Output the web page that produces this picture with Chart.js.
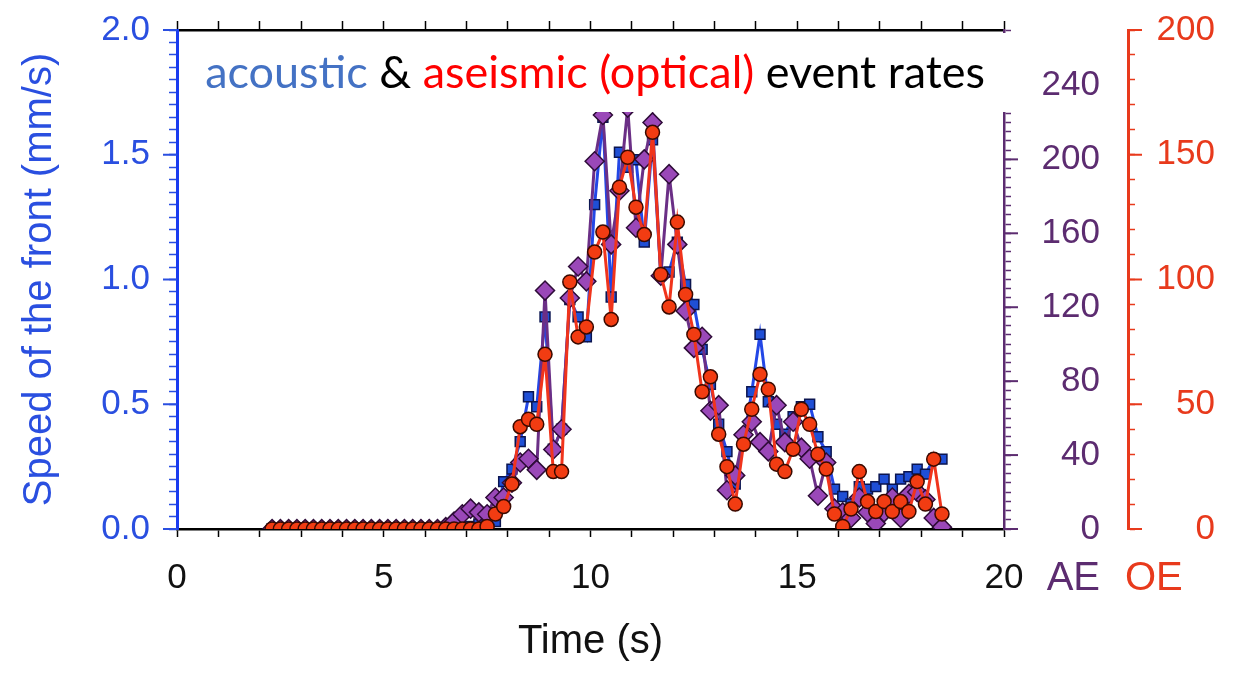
<!DOCTYPE html>
<html>
<head>
<title>event rates</title>
<style>
  body { margin: 0; background: #fff; }
</style>
</head>
<body>
<canvas id="chart1" width="1243" height="678"></canvas>

<script src="https://cdn.jsdelivr.net/npm/chart.js@4/dist/chart.umd.min.js"></script>
<script>
// time of each sample (s)
const times = [2.3, 2.5, 2.7, 2.9, 3.1, 3.3, 3.5, 3.7, 3.9, 4.1, 4.3, 4.5, 4.7, 4.9, 5.1, 5.3, 5.5, 5.7, 5.9, 6.1,
  6.3, 6.5, 6.7, 6.9, 7.1, 7.3, 7.5, 7.7, 7.9, 8.1, 8.3, 8.5, 8.7, 8.9, 9.1, 9.3, 9.5, 9.7, 9.9, 10.1,
  10.3, 10.5, 10.7, 10.9, 11.1, 11.3, 11.5, 11.7, 11.9, 12.1, 12.3, 12.5, 12.7, 12.9, 13.1, 13.3, 13.5, 13.7, 13.9, 14.1,
  14.3, 14.5, 14.7, 14.9, 15.1, 15.3, 15.5, 15.7, 15.9, 16.1, 16.3, 16.5, 16.7, 16.9, 17.1, 17.3, 17.5, 17.7, 17.9, 18.1,
  18.3, 18.5];

// speed of the front (mm/s)
const speed = [0, 0, 0, 0, 0, 0, 0, 0, 0, 0, 0, 0, 0, 0, 0, 0, 0, 0, 0, 0,
  0, 0, 0, 0, 0.01, 0.02, 0.03, 0.03, 0.19, 0.24, 0.35, 0.53, 0.49, 0.85, 0.32, 0.40, 0.92, 0.85, 0.77, 1.30,
  1.65, 0.93, 1.51, 1.45, 1.48, 1.15, 1.56, 1.02, 1.03, 1.15, 0.98, 0.90, 0.72, 0.58, 0.42, 0.31, 0.18, 0.35, 0.55, 0.78,
  0.51, 0.42, 0.38, 0.45, 0.49, 0.50, 0.37, 0.31, 0.16, 0.13, 0.10, 0.17, 0.16, 0.17, 0.20, 0.16, 0.20, 0.21, 0.24, 0.22,
  0.28, 0.28];

// acoustic events (AE)
const aeRate = [0, 0, 0, 0, 0, 0, 0, 0, 0, 0, 0, 0, 0, 0, 0, 0, 0, 0, 0, 0,
  0, 1, 4, 8, 11, 9, 8, 17, 17, 25, 36, 38, 32, 129, 43, 54, 125, 142, 134, 199,
  224, 154, 183, 228, 163, 200, 220, 137, 192, 154, 118, 98, 104, 64, 67, 21, 29, 51, 58, 47,
  42, 67, 47, 58, 44, 38, 18, 36, 11, 9, 6, 17, 9, 3, 9, 17, 6, 19, 20, 16,
  6, 1];

// optical events (OE)
const oeRate = [0, 0, 0, 0, 0, 0, 0, 0, 0, 0, 0, 0, 0, 0, 0, 0, 0, 0, 0, 0,
  0, 0, 0, 0, 0, 0, 1, 6, 9, 18, 41, 44, 42, 70, 23, 23, 99, 77, 81, 111,
  119, 84, 137, 149, 129, 118, 159, 102, 89, 123, 94, 78, 55, 61, 38, 25, 10, 34, 48, 62,
  56, 26, 23, 32, 48, 42, 30, 24, 6, 1, 8, 23, 11, 7, 11, 7, 11, 7, 19, 10,
  28, 6];

const timeLabels = [0, 5, 10, 15, 20];
const speedLabels = [0, 0.5, 1.0, 1.5, 2.0];
const aeLabels = [0, 40, 80, 120, 160, 200, 240];
const oeLabels = [0, 50, 100, 150, 200];

const BLUE = '#2a4fe0';
const PURPLE = '#5c2c70';
const RED = '#e83a1c';

function isIn(v, list) {
  return list.some(l => Math.abs(l - v) < 1e-6);
}

function pts(arr) {
  return times.map((t, i) => ({ x: t, y: arr[i] }));
}

// vertical axes: fixed width, no extra room for half labels at the ends
function fixY(width) {
  return s => { s.width = width; s.paddingTop = 0; s.paddingBottom = 0; };
}

Chart.defaults.font.family = "'Liberation Sans', Arial, Helvetica, sans-serif";

// longer major ticks, AE/OE captions and the white title box
const extras = {
  id: 'extras',
  afterDraw(chart) {
    const c = chart.ctx;
    const sy = chart.scales.y, sae = chart.scales.ae, soe = chart.scales.oe;
    const area = chart.chartArea;
    c.save();
    c.lineWidth = 2;
    c.strokeStyle = BLUE;
    speedLabels.forEach(v => {
      const p = sy.getPixelForValue(v);
      c.beginPath(); c.moveTo(sy.right - 14, p); c.lineTo(sy.right, p); c.stroke();
    });
    c.strokeStyle = PURPLE;
    aeLabels.forEach(v => {
      const p = sae.getPixelForValue(v);
      c.beginPath(); c.moveTo(sae.left, p); c.lineTo(sae.left + 14, p); c.stroke();
    });
    c.strokeStyle = RED;
    oeLabels.forEach(v => {
      const p = soe.getPixelForValue(v);
      c.beginPath(); c.moveTo(soe.left, p); c.lineTo(soe.left + 14, p); c.stroke();
    });

    // AE / OE captions
    c.font = "40px 'Liberation Sans', Arial, sans-serif";
    c.textBaseline = 'middle';
    c.fillStyle = PURPLE;
    c.textAlign = 'right';
    c.fillText('AE', sae.right, 579);
    c.fillStyle = RED;
    c.textAlign = 'left';
    c.fillText('OE', soe.left - 3, 579);

    // title box
    c.fillStyle = '#fff';
    c.fillRect(area.left + 4, area.top + 3, area.right - area.left + 16, 79);
    const parts = [['acoustic', '#4472c4'], [' & ', '#000'], ['aseismic (optical)', '#ff0000'], [' event rates', '#000']];
    let size = 38;
    c.font = size + "px Lato, 'Open Sans', sans-serif";
    let w = parts.reduce((s, p) => s + c.measureText(p[0]).width, 0);
    size = size * 780 / w;
    c.font = size + "px Lato, 'Open Sans', sans-serif";
    w = parts.reduce((s, p) => s + c.measureText(p[0]).width, 0);
    let x = 595 - w / 2;
    c.textAlign = 'left';
    c.textBaseline = 'alphabetic';
    parts.forEach(p => {
      c.fillStyle = p[1];
      c.fillText(p[0], x, area.top + 58);
      x += c.measureText(p[0]).width;
    });
    c.restore();
  }
};

const ctx = document.getElementById('chart1').getContext('2d');
const chart = new Chart(ctx, {
  type: 'line',
  data: {
    datasets: [
      {
        label: 'OE',
        data: pts(oeRate),
        yAxisID: 'oe',
        order: 1,
        borderColor: '#f0341c',
        borderWidth: 3,
        pointStyle: 'circle',
        pointRadius: 7,
        pointBackgroundColor: '#f23c12',
        pointBorderColor: '#3a0a00',
        pointBorderWidth: 1.5
      },
      {
        label: 'AE',
        data: pts(aeRate),
        yAxisID: 'ae',
        order: 2,
        borderColor: '#6b2f86',
        borderWidth: 3,
        pointStyle: 'rectRot',
        pointRadius: 9.5,
        pointBackgroundColor: '#9a48b8',
        pointBorderColor: '#2e0c38',
        pointBorderWidth: 1.5
      },
      {
        label: 'speed',
        data: pts(speed),
        yAxisID: 'y',
        order: 3,
        borderColor: '#2347e6',
        borderWidth: 3,
        pointStyle: 'rect',
        pointRadius: 7,
        pointBackgroundColor: '#1f4fd6',
        pointBorderColor: '#0b1550',
        pointBorderWidth: 1.5
      }
    ]
  },
  options: {
    responsive: false,
    animation: false,
    layout: { padding: { left: 0, top: 0, bottom: 0, right: 28 } },
    plugins: { legend: { display: false }, tooltip: { enabled: false } },
    scales: {
      x: {
        type: 'linear', position: 'bottom', min: 0, max: 20,
        border: { color: '#000', width: 2.5 },
        grid: { drawOnChartArea: false, tickLength: 8, tickColor: '#000', tickWidth: 1.5 },
        ticks: {
          stepSize: 1, autoSkip: false, maxRotation: 0, maxTicksLimit: 50,
          color: '#111', font: { size: 35 }, padding: 20,
          callback: v => isIn(v, timeLabels) ? String(v) : ''
        },
        title: { display: true, text: 'Time (s)', color: '#111', font: { size: 40 }, padding: { top: 0, bottom: 12 } },
        afterFit: s => { s.height = 149; }
      },
      xTop: {
        type: 'linear', position: 'top', min: 0, max: 20,
        border: { color: '#000', width: 2.5 },
        grid: { drawOnChartArea: false, tickLength: 9, tickColor: '#000', tickWidth: 1.5 },
        ticks: { stepSize: 1, autoSkip: false, maxTicksLimit: 50, callback: () => '' },
        afterFit: s => { s.height = 30; }
      },
      y: {
        type: 'linear', position: 'left', min: 0, max: 2,
        border: { color: '#1a3cf0', width: 3 },
        grid: { drawOnChartArea: false, tickLength: 8, tickColor: BLUE, tickWidth: 1.5 },
        ticks: {
          stepSize: 0.05, autoSkip: false, maxTicksLimit: 100,
          color: BLUE, font: { size: 35 }, padding: 19,
          callback: v => isIn(v, speedLabels) ? v.toFixed(1) : ''
        },
        title: { display: true, text: 'Speed of the front (mm/s)', color: BLUE, font: { size: 40 }, padding: { top: 16, bottom: 0 } },
        afterFit: fixY(177)
      },
      ae: {
        type: 'linear', position: 'right', weight: 0, min: 0, max: 270,
        border: { color: PURPLE, width: 2.5 },
        grid: { drawOnChartArea: false, tickLength: 7, tickColor: PURPLE, tickWidth: 1.5 },
        ticks: {
          stepSize: 5, autoSkip: false, maxTicksLimit: 100, crossAlign: 'far',
          color: PURPLE, font: { size: 35 },
          callback: v => isIn(v, aeLabels) ? String(v) : ''
        },
        afterFit: fixY(96)
      },
      gap: {
        type: 'linear', position: 'right', weight: 1, min: 0, max: 1,
        border: { display: false },
        grid: { display: false },
        ticks: { display: false },
        afterFit: fixY(28)
      },
      oe: {
        type: 'linear', position: 'right', weight: 2, min: 0, max: 200,
        border: { color: RED, width: 3 },
        grid: { drawOnChartArea: false, tickLength: 7, tickColor: RED, tickWidth: 1.5 },
        ticks: {
          stepSize: 10, autoSkip: false, maxTicksLimit: 100, crossAlign: 'far',
          color: RED, font: { size: 35 },
          callback: v => isIn(v, oeLabels) ? String(v) : ''
        },
        afterFit: fixY(87)
      }
    }
  },
  plugins: [extras]
});
</script>
</body>
</html>
